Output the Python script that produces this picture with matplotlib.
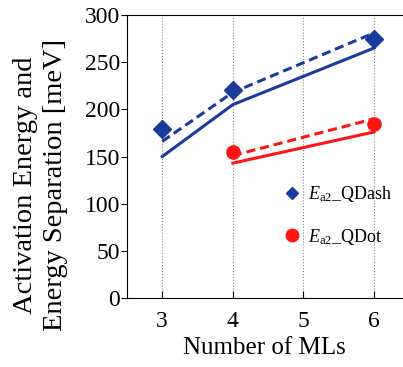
import numpy as np
import matplotlib
matplotlib.use('Agg')
import matplotlib.pyplot as plt
from matplotlib.lines import Line2D

plt.rcParams['font.family'] = 'Liberation Serif'
plt.rcParams['mathtext.fontset'] = 'custom'
plt.rcParams['mathtext.rm'] = 'Liberation Serif'
plt.rcParams['mathtext.it'] = 'Liberation Serif:italic'
plt.rcParams['mathtext.bf'] = 'Liberation Serif:bold'

# data
mls_dash = [3, 4, 6]
ea2_dash = [179, 221, 275]
calc_dash_a = [166, 218, 281]   # dashed line
calc_dash_b = [150, 205, 265]   # solid line

mls_dot = [4, 6]
ea2_dot = [155, 184]
calc_dot_a = [151, 190]
calc_dot_b = [143, 176]

blue = '#1a3a9c'
red = '#ff1414'

fig = plt.figure(figsize=(4.03, 3.67), dpi=100)
ax = fig.add_axes([0.315, 0.188, 0.683, 0.771])

ax.plot(mls_dash, calc_dash_a, '--', color=blue, lw=2.2, dashes=(3, 1.6))
ax.plot(mls_dash, calc_dash_b, '-', color=blue, lw=2.2)
ax.plot(mls_dot, calc_dot_a, '--', color=red, lw=2.2, dashes=(3, 1.6))
ax.plot(mls_dot, calc_dot_b, '-', color=red, lw=2.2)
ax.plot(mls_dash, ea2_dash, 'D', color=blue, ms=9.5, ls='none', zorder=5)
ax.plot(mls_dot, ea2_dot, 'o', color=red, ms=9.5, ls='none', zorder=5)

ax.set_xlim(2.5, 6.4)
ax.set_ylim(0, 300)
ax.set_xticks([3, 4, 5, 6])
ax.set_yticks(np.arange(0, 301, 50))
ax.xaxis.grid(True, ls=':', color='#888888', lw=0.8)
ax.tick_params(axis='x', direction='in', length=5, labelsize=17, pad=9)
ax.tick_params(axis='y', direction='out', length=4, labelsize=17, pad=1)
ax.spines['right'].set_visible(False)

ax.set_xlabel('Number of MLs', fontsize=18, labelpad=4)
ax.set_ylabel('Activation Energy and\nEnergy Separation [meV]', fontsize=20.5, linespacing=1.25)
ax.yaxis.set_label_coords(-0.215, 0.40)

handles = [
    Line2D([], [], marker='D', color=blue, ls='none', ms=6),
    Line2D([], [], marker='o', color=red, ls='none', ms=9),
]
labels = [r'$E_{\mathrm{a2}}$_QDash', r'$E_{\mathrm{a2}}$_QDot']
ax.legend(handles, labels, loc='upper left', bbox_to_anchor=(0.50, 0.46), frameon=False,
          fontsize=13, handletextpad=0.3, labelspacing=1.25, handlelength=1.2)

fig.savefig('out.png', dpi=100)
